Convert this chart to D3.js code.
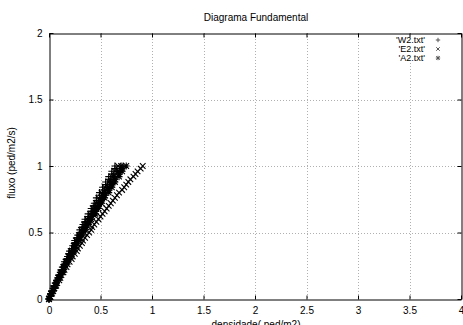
<!DOCTYPE html>
<html>
<head>
<meta charset="utf-8">
<script src="https://cdn.jsdelivr.net/npm/d3@7"></script>
<style>
  html, body { margin: 0; padding: 0; background: #fff; }
  svg { display: block; font-family: "Liberation Sans", Arial, sans-serif; }
</style>
</head>
<body>
<svg id="chart" width="463" height="325"></svg>
<script>
// ---- data ----
const title = "Diagrama Fundamental";
const xLabel = "densidade( ped/m2)";
const yLabel = "fluxo (ped/m2/s)";
const xTicks = [0, 0.5, 1, 1.5, 2, 2.5, 3, 3.5, 4];
const yTicks = [0, 0.5, 1, 1.5, 2];
const seriesNames = ["'W2.txt'", "'E2.txt'", "'A2.txt'"];
const seriesMarkers = ["plus", "cross", "star"];

// flux levels sampled by the runs (ped/m2/s)
const fluxoA = [0, .04, .08, .12, .16, .20, .24, .28, .32, .36, .40, .44, .48,
                .52, .56, .60, .64, .68, .72, .76, .80, .84, .88, .92, .96, 1.0];
const fluxoB = [.02, .06, .10, .14, .18, .22, .26, .30, .34, .38, .42, .46, .50,
                .54, .58, .62, .66, .70, .74, .78, .82, .86, .90, .94, .98];

// density read for each run (ped/m2)
const w2_run1 = [0,.02,.04,.06,.09,.11,.13,.15,.18,.20,.23,.25,.28,.30,.33,.35,.38,.41,.44,.46,.49,.52,.55,.58,.61,.64];
const w2_run2 = [0,.02,.05,.07,.10,.12,.15,.17,.20,.23,.25,.28,.31,.34,.37,.40,.43,.46,.49,.52,.55,.59,.62,.65,.69,.72];
const w2_run3 = [.01,.03,.06,.08,.10,.13,.15,.18,.20,.23,.25,.28,.31,.33,.36,.39,.42,.45,.48,.51,.54,.57,.60,.63,.66];
const w2_run4 = [.01,.03,.05,.08,.10,.12,.15,.17,.19,.22,.25,.27,.30,.32,.35,.38,.41,.43,.46,.49,.52,.55,.58,.61,.64];
const e2_run1 = [0,.02,.04,.07,.09,.11,.14,.16,.19,.21,.24,.26,.29,.31,.34,.37,.40,.43,.46,.48,.51,.54,.58,.61,.64,.67];
const e2_run2 = [0,.03,.05,.08,.11,.14,.17,.20,.23,.27,.30,.33,.37,.41,.44,.48,.52,.56,.60,.64,.68,.73,.77,.82,.86,.91];
const e2_run3 = [.01,.04,.07,.10,.12,.15,.18,.22,.25,.28,.32,.35,.39,.42,.46,.50,.54,.58,.62,.66,.71,.75,.79,.84,.89];
const a2_run1 = [0,.02,.05,.07,.09,.12,.14,.17,.19,.22,.25,.27,.30,.33,.36,.39,.42,.45,.48,.51,.54,.57,.60,.63,.67,.70];
const a2_run2 = [0,.02,.05,.07,.10,.13,.15,.18,.21,.24,.26,.29,.32,.35,.38,.41,.45,.48,.51,.54,.58,.61,.64,.68,.71,.75];
const a2_run3 = [.01,.04,.06,.08,.11,.14,.16,.19,.22,.24,.27,.30,.33,.36,.39,.42,.45,.48,.51,.54,.58,.61,.64,.68,.71];

const seriesRuns = [
  [[w2_run1, fluxoA], [w2_run2, fluxoA], [w2_run3, fluxoB], [w2_run4, fluxoB]],
  [[e2_run1, fluxoA], [e2_run2, fluxoA], [e2_run3, fluxoB]],
  [[a2_run1, fluxoA], [a2_run2, fluxoA], [a2_run3, fluxoB]]
];

// ---- layout ----
const svg = d3.select("#chart");
const mLeft = 49, mRight = 461, mTop = 33, mBottom = 299;

const x = d3.scaleLinear().domain([0, 4]).range([mLeft, mRight]);
const y = d3.scaleLinear().domain([0, 2]).range([mBottom, mTop]);

// grid
const grid = svg.append("g").attr("stroke", "#b0b0b0").attr("stroke-width", 1)
  .attr("stroke-dasharray", "1,2").attr("fill", "none");
xTicks.slice(1, -1).forEach(t => {
  grid.append("line").attr("x1", Math.round(x(t)) + 0.5).attr("x2", Math.round(x(t)) + 0.5)
    .attr("y1", mTop).attr("y2", mBottom);
});
yTicks.slice(1, -1).forEach(t => {
  grid.append("line").attr("y1", Math.round(y(t)) + 0.5).attr("y2", Math.round(y(t)) + 0.5)
    .attr("x1", mLeft).attr("x2", mRight);
});

// legend background blanks grid
const legendX = 425, legendY0 = 40, legendDy = 9;
svg.append("rect").attr("x", 385).attr("y", 34).attr("width", 60).attr("height", 28).attr("fill", "#fff");

// axes (gnuplot-like: inward ticks, mirrored)
const tickLen = 4;
const axB = d3.axisBottom(x).tickValues(xTicks).tickSizeInner(-tickLen).tickSizeOuter(0).tickPadding(7)
  .tickFormat(d3.format("~g"));
const axL = d3.axisLeft(y).tickValues(yTicks).tickSizeInner(-tickLen).tickSizeOuter(0).tickPadding(7)
  .tickFormat(d3.format("~g"));
const axT = d3.axisTop(x).tickValues(xTicks).tickSizeInner(-tickLen).tickSizeOuter(0).tickFormat("");
const axR = d3.axisRight(y).tickValues(yTicks).tickSizeInner(-tickLen).tickSizeOuter(0).tickFormat("");

function styleAxis(g) {
  g.select(".domain").attr("stroke", "#000");
  g.selectAll(".tick line").attr("stroke", "#000");
  g.selectAll(".tick text").attr("fill", "#000").attr("font-size", 10)
    .attr("font-family", "Liberation Sans, Arial, sans-serif");
}
svg.append("g").attr("transform", `translate(0,${mBottom + 0.5})`).call(axB).call(styleAxis);
svg.append("g").attr("transform", `translate(${mLeft + 0.5},0)`).call(axL).call(styleAxis);
svg.append("g").attr("transform", `translate(0,${mTop + 0.5})`).call(axT).call(styleAxis);
svg.append("g").attr("transform", `translate(${mRight + 0.5},0)`).call(axR).call(styleAxis);

// markers
function markerPath(type, cx, cy, r) {
  const p = d3.path();
  if (type === "plus" || type === "star") {
    p.moveTo(cx - r, cy); p.lineTo(cx + r, cy);
    p.moveTo(cx, cy - r); p.lineTo(cx, cy + r);
  }
  if (type === "cross" || type === "star") {
    const s = r * 0.8;
    p.moveTo(cx - s, cy - s); p.lineTo(cx + s, cy + s);
    p.moveTo(cx - s, cy + s); p.lineTo(cx + s, cy - s);
  }
  return p.toString();
}

const pts = svg.append("g").attr("fill", "none").attr("stroke", "#000").attr("stroke-width", 1.1);
seriesRuns.forEach((runs, si) => {
  runs.forEach(([dens, flux]) => {
    dens.forEach((d, i) => {
      pts.append("path").attr("d", markerPath(seriesMarkers[si], x(d), y(flux[i]), 3.5));
    });
  });
});

// legend
seriesNames.forEach((name, i) => {
  const ly = legendY0 + i * legendDy;
  svg.append("text").attr("x", legendX).attr("y", ly).attr("dy", "0.35em")
    .attr("text-anchor", "end").attr("font-size", 9).attr("fill", "#000").text(name);
  svg.append("path").attr("d", markerPath(seriesMarkers[i], 438, ly, 2.2))
    .attr("stroke", "#555").attr("stroke-width", 1).attr("fill", "none");
});

// titles
svg.append("text").attr("x", 256).attr("y", 21).attr("text-anchor", "middle")
  .attr("font-size", 10).attr("fill", "#000").text(title);
svg.append("text").attr("x", 256).attr("y", 328).attr("text-anchor", "middle")
  .attr("font-size", 10).attr("fill", "#000").text(xLabel);
svg.append("text").attr("transform", `translate(15,163) rotate(-90)`).attr("text-anchor", "middle")
  .attr("font-size", 10).attr("fill", "#000").text(yLabel);
</script>
</body>
</html>
